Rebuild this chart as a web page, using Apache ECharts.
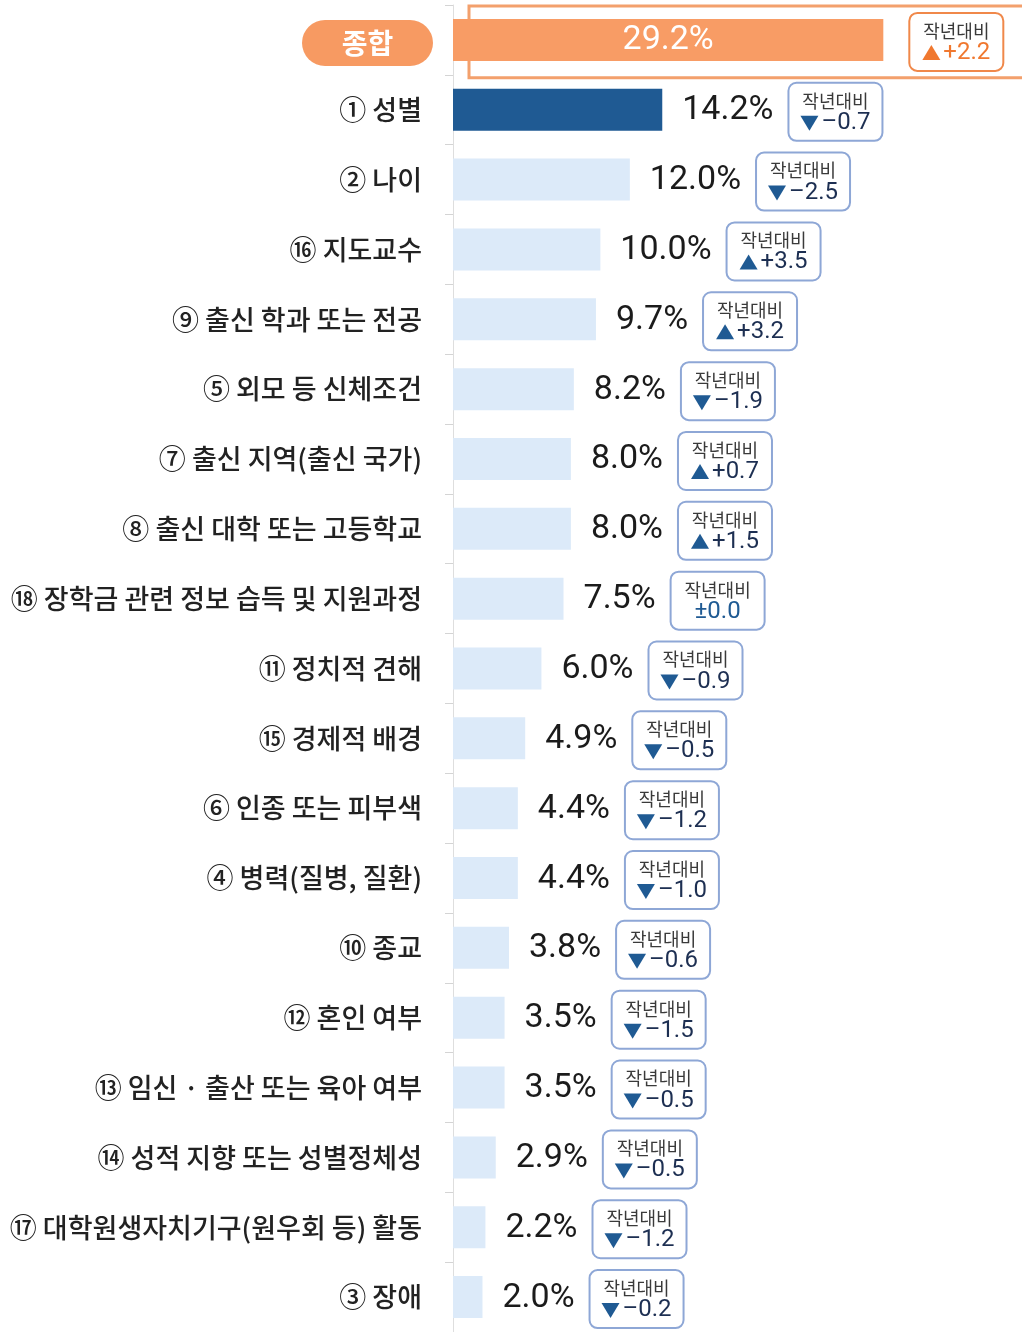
<!DOCTYPE html>
<html>
<head>
<meta charset="utf-8">
<script src="https://cdn.jsdelivr.net/npm/echarts@6/dist/echarts.min.js"></script>
<style>
  html, body { margin: 0; padding: 0; background: #fff; }
  #main { width: 1022px; height: 1332px; }
</style>
</head>
<body>
<div id="main"></div>
<script>
// 항목별 응답 비율(%) 및 작년 대비 증감(%p)
const categories = [
  '종합', '① 성별', '② 나이', '⑯ 지도교수', '⑨ 출신 학과 또는 전공',
  '⑤ 외모 등 신체조건', '⑦ 출신 지역(출신 국가)', '⑧ 출신 대학 또는 고등학교',
  '⑱ 장학금 관련 정보 습득 및 지원과정', '⑪ 정치적 견해', '⑮ 경제적 배경',
  '⑥ 인종 또는 피부색', '④ 병력(질병, 질환)', '⑩ 종교', '⑫ 혼인 여부',
  '⑬ 임신 · 출산 또는 육아 여부', '⑭ 성적 지향 또는 성별정체성',
  '⑰ 대학원생자치기구(원우회 등) 활동', '③ 장애'
];
const values = [29.2, 14.2, 12.0, 10.0, 9.7, 8.2, 8.0, 8.0, 7.5, 6.0, 4.9, 4.4, 4.4, 3.8, 3.5, 3.5, 2.9, 2.2, 2.0];
const changes = [2.2, -0.7, -2.5, 3.5, 3.2, -1.9, 0.7, 1.5, 0.0, -0.9, -0.5, -1.2, -1.0, -0.6, -1.5, -0.5, -0.5, -1.2, -0.2];

const ORANGE = '#f89c65';
const NAVY = '#1f5a93';
const LIGHT = '#dceaf9';
const KR = '"Noto Sans CJK KR", "Noto Sans", sans-serif';
const VALUE_FONT = '34px Roboto, "Noto Sans", sans-serif';
const DELTA_FONT = '24px Roboto, "Noto Sans", sans-serif';
const BADGE_FONT = '18px ' + KR;

const ctx = document.createElement('canvas').getContext('2d');
function textW(t, font) {
  ctx.font = font;
  return ctx.measureText(t).width;
}

function fmtChange(c) {
  if (c === 0) return '±0.0';
  return (c > 0 ? '+' : '–') + Math.abs(c).toFixed(1);
}

// 값 라벨 + 작년대비 박스
function renderLabel(params, api) {
  const i = params.dataIndex;
  const v = api.value(0);
  const c = changes[i];
  const end = api.coord([v, i]);
  const start = api.coord([0, i]);
  const cy = end[1];
  const valTxt = v.toFixed(1) + '%';
  const top = i === 0;
  const children = [];
  let bx;
  if (top) {
    children.push({
      type: 'text',
      style: { x: (start[0] + end[0]) / 2, y: cy + 1, text: valTxt, fill: '#fff',
               font: VALUE_FONT, align: 'center', verticalAlign: 'middle' }
    });
    bx = end[0] + 26;
  } else {
    children.push({
      type: 'text',
      style: { x: end[0] + 20, y: cy + 1, text: valTxt, fill: '#1b1b1b',
               font: VALUE_FONT, align: 'left', verticalAlign: 'middle' }
    });
    bx = end[0] + 20 + textW(valTxt, VALUE_FONT) + 15;
  }
  const bw = 94, bh = 58;
  const accent = top ? '#f0782f' : NAVY;
  children.push({
    type: 'rect',
    shape: { x: bx, y: cy - 27, width: bw, height: bh, r: 8 },
    style: { fill: '#fff', stroke: top ? '#f0884a' : '#8ea7d6', lineWidth: 2 }
  });
  children.push({
    type: 'text',
    style: { x: bx + bw / 2, y: cy - 9, text: '작년대비', fill: '#3a3a3a',
             font: BADGE_FONT, align: 'center', verticalAlign: 'middle' }
  });
  const dTxt = fmtChange(c);
  const dw = textW(dTxt, DELTA_FONT);
  const ly = cy + 13;
  const dColor = top ? '#f0782f' : '#1d2f52';
  if (c === 0) {
    children.push({
      type: 'text',
      style: { x: bx + bw / 2, y: ly, text: dTxt, fill: NAVY, font: DELTA_FONT,
               align: 'center', verticalAlign: 'middle' }
    });
  } else {
    const tw = 18, gap = 3;
    const sx = bx + bw / 2 - (tw + gap + dw) / 2;
    const pts = c < 0
      ? [[sx, ly - 7], [sx + tw, ly - 7], [sx + tw / 2, ly + 8]]
      : [[sx + tw / 2, ly - 8], [sx, ly + 7], [sx + tw, ly + 7]];
    children.push({ type: 'polygon', shape: { points: pts }, style: { fill: accent } });
    children.push({
      type: 'text',
      style: { x: sx + tw + gap, y: ly, text: dTxt, fill: dColor, font: DELTA_FONT,
               align: 'left', verticalAlign: 'middle' }
    });
  }
  return { type: 'group', children: children };
}

// 종합 행 테두리
function renderFrame(params, api) {
  const i = params.dataIndex;
  const start = api.coord([0, i]);
  const band = api.size([0, 1])[1];
  return {
    type: 'rect',
    shape: { x: start[0] + 16, y: start[1] - band / 2 + 1, width: 700, height: band + 2 },
    style: { fill: 'none', stroke: '#f3a06c', lineWidth: 3 }
  };
}

const myChart = echarts.init(document.getElementById('main'));

const option = {
  backgroundColor: '#fff',
  animation: false,
  grid: { left: 453, top: 5, width: 560, height: 1330 },
  xAxis: { type: 'value', min: 0, max: 38, show: false },
  yAxis: {
    type: 'category',
    inverse: true,
    data: categories,
    axisLine: { lineStyle: { color: '#dedede', width: 1 } },
    axisTick: { show: true, length: 8, lineStyle: { color: '#d4d4d4' } },
    axisLabel: {
      margin: 20,
      interval: 0,
      formatter: (val) => val === '종합' ? '{s|}\n{p|' + val + '}' : '{n|' + val + '}',
      rich: {
        n: { fontFamily: KR, fontSize: 27, fontWeight: 500, color: '#222', padding: [0, 11, 0, 0] },
        s: { height: 6, lineHeight: 6 },
        p: {
          fontFamily: KR, fontSize: 28, fontWeight: 'bold', color: '#fff',
          backgroundColor: '#f79a62', borderRadius: 23,
          width: 131, height: 46, lineHeight: 46, align: 'center'
        }
      }
    }
  },
  series: [
    {
      type: 'custom',
      z: 1,
      renderItem: renderFrame,
      data: [[values[0], 0]],
      encode: { x: 0, y: 1 },
      silent: true
    },
    {
      type: 'bar',
      z: 2,
      barWidth: 42,
      data: values.map((v, i) => ({
        value: v,
        itemStyle: { color: i === 0 ? ORANGE : i === 1 ? NAVY : LIGHT }
      }))
    },
    {
      type: 'custom',
      z: 3,
      renderItem: renderLabel,
      data: values.map((v, i) => [v, i]),
      encode: { x: 0, y: 1 },
      silent: true
    }
  ]
};

myChart.setOption(option);
</script>
</body>
</html>
